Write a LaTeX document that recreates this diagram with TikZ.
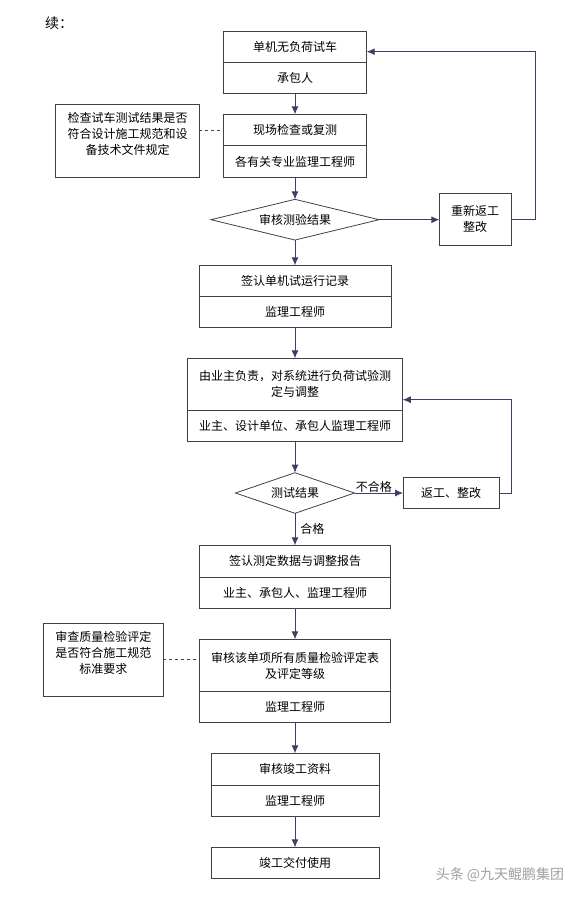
\documentclass[tikz,border=0pt]{standalone}
\usepackage{fontspec}
\usepackage{xcolor}
\usetikzlibrary{positioning, arrows.meta, shapes.geometric}
\newfontfamily\cjk{Noto Sans CJK SC}
\definecolor{boxline}{HTML}{404048}
\definecolor{arrowline}{HTML}{3E3E66}

\begin{document}
\begin{tikzpicture}[
    x=1pt, y=-1pt, % page units, y runs downwards
    every node/.style={font=\cjk\fontsize{12}{16}\selectfont, inner sep=0pt, align=center},
    part/.style={draw=boxline, line width=0.8pt, outer sep=0pt, minimum height=31pt},
    notebox/.style={draw=boxline, line width=0.8pt, outer sep=0pt, inner ysep=8pt},
    decision/.style={diamond, draw=boxline, line width=0.8pt, aspect=4, outer sep=0pt},
    flow/.style={draw=arrowline, line width=0.9pt, -{Latex[length=8pt,width=7pt]}},
    link/.style={draw=boxline, line width=0.8pt, dashed}
]
    \useasboundingbox (0,0) rectangle (581,897);

    % 1. Title
    \node[font=\cjk\fontsize{14}{16}\selectfont] (title) at (59,23) {续：};

    % 2. Single machine trial
    \node[part, minimum width=143.4pt, minimum height=31.3pt] (trial) at (295,46.6) {单机无负荷试车};
    \node[part, minimum width=143.4pt, below=0pt of trial] (trialby) {承包人};

    \node[part, minimum width=143.4pt, minimum height=31.4pt] (check) at (295,130) {现场检查或复测};
    \node[part, minimum width=143.4pt, minimum height=31.6pt, below=0pt of check] (checkby) {各有关专业监理工程师};

    % note on the left
    \node[notebox, minimum width=143.7pt] (checknote) at (127.5,140.8)
        {\parbox[c][57pt][t]{136pt}{\centering 检查试车测试结果是否\\符合设计施工规范和设\\备技术文件规定}};

    \node[decision, minimum width=168pt, minimum height=40.7pt] (verify) at (295,219.7) {审核测验结果};
    \node[part, minimum width=71.7pt, minimum height=51.7pt] (redo) at (475.2,219.2) {重新返工\\整改};

    % 3. Record and load test
    \node[part, minimum width=191.8pt] (sign) at (295,280.8) {签认单机试运行记录};
    \node[part, minimum width=191.8pt, below=0pt of sign] (signby) {监理工程师};

    \node[part, minimum width=215.6pt, minimum height=52pt] (load) at (295,384.3)
        {由业主负责，对系统进行负荷试验测\\定与调整};
    \node[part, minimum width=215.6pt, minimum height=30.7pt, below=0pt of load] (loadby)
        {业主、设计单位、承包人监理工程师};

    \node[decision, minimum width=119pt, minimum height=40.6pt] (test) at (295,493) {测试结果};
    \node[part, minimum width=96.3pt, minimum height=30.7pt] (rework) at (451.2,493) {返工、整改};

    % 4. Report, evaluation and handover
    \node[part, minimum width=191.7pt, minimum height=32pt] (report) at (295,561.3) {签认测定数据与调整报告};
    \node[part, minimum width=191.7pt, below=0pt of report] (reportby) {业主、承包人、监理工程师};

    \node[part, minimum width=191.7pt, minimum height=52.4pt] (audit) at (295,665.5)
        {审核该单项所有质量检验评定表\\及评定等级};
    \node[part, minimum width=191.7pt, minimum height=30.3pt, below=0pt of audit] (auditby) {监理工程师};

    \node[notebox, minimum width=120pt] (auditnote) at (103.3,659.7)
        {\parbox[c][56.7pt][t]{112pt}{\centering 审查质量检验评定\\是否符合施工规范\\标准要求}};

    \node[part, minimum width=168.2pt, minimum height=32pt] (files) at (295,769.3) {审核竣工资料};
    \node[part, minimum width=168.2pt, minimum height=30.7pt, below=0pt of files] (filesby) {监理工程师};

    \node[part, minimum width=168.2pt, minimum height=30.7pt] (handover) at (295,862.7) {竣工交付使用};

    \node[font=\cjk\fontsize{14}{16}\selectfont, text=gray!75] (credit) at (500,875) {头条 @九天鲲鹏集团};

    % 5. Connectors
    \coordinate (redoturn) at (535,51.7);
    \coordinate (reworkturn) at (511,399.7);

    \draw[flow] (trialby) -- (check);
    \draw[flow] (checkby) -- (verify);
    \draw[flow] (verify.east) -- (verify.east -| redo.west);
    \draw[flow] (redo.east) -| (redoturn) -- (trial.east |- redoturn);
    \draw[flow] (verify) -- (sign);
    \draw[flow] (signby) -- (load);
    \draw[flow] (loadby) -- (test);
    \draw[flow] (test.east) -- (test.east -| rework.west)
        node[pos=0.4, above] {不合格};
    \draw[flow] (rework.east) -| (reworkturn) -- (reworkturn -| load.east);
    \draw[flow] (test) -- (report)
        node[midway, right, xshift=5pt] {合格};
    \draw[flow] (reportby) -- (audit);
    \draw[flow] (auditby) -- (files);
    \draw[flow] (filesby) -- (handover);

    % dashed links to the notes
    \draw[link] (checknote.east |- check.west) -- (check.west);
    \draw[link] (auditnote.east) -- (auditnote.east -| audit.west);

\end{tikzpicture}
\end{document}
